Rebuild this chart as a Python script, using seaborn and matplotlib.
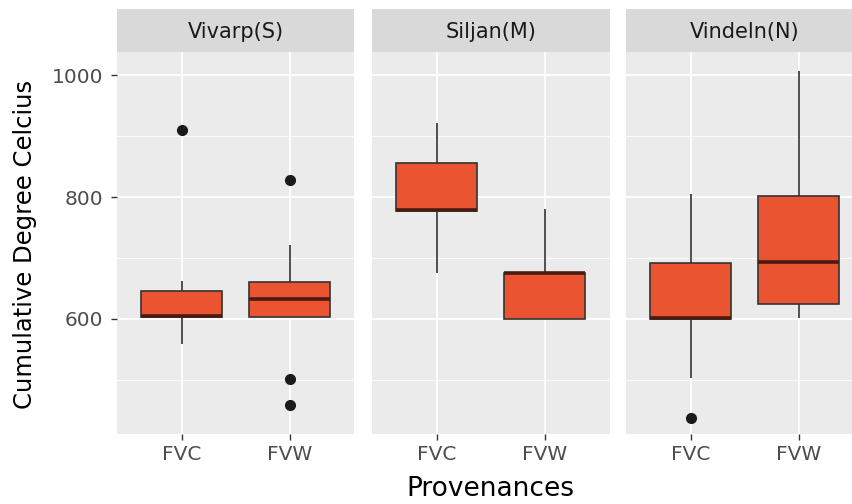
import matplotlib
matplotlib.use("Agg")
import matplotlib.pyplot as plt
import numpy as np
import pandas as pd
import seaborn as sns

# ---- data ----
sites = ["Vivarp(S)", "Siljan(M)", "Vindeln(N)"]
provenances = ["FVC", "FVW"]
vivarp_fvc = [559, 590, 603, 604, 605, 620, 646, 662, 911]
vivarp_fvw = [459, 501, 603, 603, 610, 620, 633, 640, 650, 661, 680, 721, 828]
siljan_fvc = [675, 778, 779, 856, 921]
siljan_fvw = [600, 600, 675, 676, 780]
vindeln_fvc = [437, 503, 600, 601, 601, 650, 692, 750, 805]
vindeln_fvw = [601, 625, 694, 802, 1007]
y_major = [600, 800, 1000]
y_minor = [500, 700, 900]

groups = {
    ("Vivarp(S)", "FVC"): vivarp_fvc,
    ("Vivarp(S)", "FVW"): vivarp_fvw,
    ("Siljan(M)", "FVC"): siljan_fvc,
    ("Siljan(M)", "FVW"): siljan_fvw,
    ("Vindeln(N)", "FVC"): vindeln_fvc,
    ("Vindeln(N)", "FVW"): vindeln_fvw,
}
rows = []
for (site, prov), vals in groups.items():
    for v in vals:
        rows.append({"site": site, "prov": prov, "value": v})
df = pd.DataFrame(rows)

sns.set_theme(style="white")
plt.rcParams["font.family"] = ["DejaVu Sans"]

W, H = 853, 504
fig = plt.figure(figsize=(W / 100, H / 100), dpi=100)

panel_left = [117, 372, 626]
panel_w = 237.5
panel_top, panel_bottom = 51.7, 434.0
strip_top = 9.3

fill = "#EA5430"
edge = "#333333"

for i, site in enumerate(sites):
    L = panel_left[i]
    ax = fig.add_axes([L / W, 1 - panel_bottom / H, panel_w / W, (panel_bottom - panel_top) / H])
    ax.set_facecolor("#EBEBEB")
    sub = df[df["site"] == site]
    sns.boxplot(
        data=sub, x="prov", y="value", order=provenances, ax=ax,
        color=fill, saturation=1, width=0.75, whis=1.5,
        linecolor=edge, linewidth=1.2, showcaps=False,
        medianprops=dict(color="#4a1c10", linewidth=2.6),
        flierprops=dict(marker="o", markerfacecolor="#1a1a1a", markeredgecolor="#1a1a1a", markersize=7),
    )
    ax.set_xlim(-0.6, 1.6)
    ax.set_ylim(411.2, 1038.7)
    ax.set_yticks(y_major)
    ax.set_yticks(y_minor, minor=True)
    ax.grid(True, which="major", color="white", linewidth=1.3, zorder=0)
    ax.grid(True, which="minor", axis="y", color="white", linewidth=0.6, zorder=0)
    ax.set_axisbelow(True)
    for s in ax.spines.values():
        s.set_visible(False)
    ax.tick_params(axis="both", which="major", length=4, width=1, color="#333333",
                   labelsize=14.5, labelcolor="#4D4D4D", bottom=True, left=True)
    ax.tick_params(axis="x", pad=4)
    ax.tick_params(axis="y", pad=6)
    ax.tick_params(which="minor", length=0)
    ax.set_xlabel("")
    ax.set_ylabel("")
    if i > 0:
        ax.tick_params(axis="y", left=False, labelleft=False)

    # facet strip
    sax = fig.add_axes([L / W, 1 - panel_top / H, panel_w / W, (panel_top - strip_top) / H])
    sax.set_facecolor("#D9D9D9")
    sax.set_xticks([])
    sax.set_yticks([])
    for s in sax.spines.values():
        s.set_visible(False)
    sax.text(0.5, 0.47, site, ha="center", va="center", fontsize=15, color="#1A1A1A",
             transform=sax.transAxes)

fig.text(25 / W, 1 - 244 / H, "Cumulative Degree Celcius", rotation=90,
         ha="center", va="center", fontsize=17.5, color="black")
fig.text(490 / W, 1 - 489 / H, "Provenances", ha="center", va="center",
         fontsize=19, color="black")

fig.savefig("out.png", dpi=100, facecolor="white")
